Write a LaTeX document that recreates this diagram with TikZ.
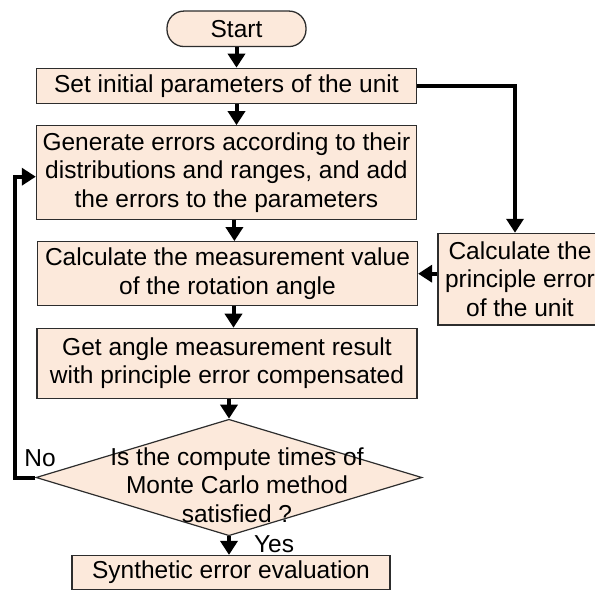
\documentclass[tikz,border=0pt]{standalone}
\usepackage{fontspec}
\setmainfont{Liberation Sans}
\usetikzlibrary{arrows.meta,shapes.geometric,calc}
\definecolor{flowfill}{RGB}{252,233,219}
\definecolor{flowline}{RGB}{45,45,45}

\begin{document}
\begin{tikzpicture}[
  x=1pt, y=-1pt,
  every node/.style={font=\fontsize{24.5}{28.5}\selectfont},
  term/.style={draw=flowline, line width=1.3pt, fill=flowfill,
               rounded corners=17pt, minimum width=139pt,
               minimum height=35.5pt, inner sep=0pt},
  box/.style={draw=flowline, line width=1.2pt, fill=flowfill,
              minimum width=380pt, align=center, inner sep=0pt},
  decision/.style={diamond, draw=flowline, line width=1.2pt,
                   fill=flowfill, minimum width=386pt,
                   minimum height=116.5pt, inner sep=0pt},
  arrow/.style={-{Triangle[length=14pt, width=17pt]}, line width=4pt},
]

%% Page frame (the right-hand box runs past it)
\useasboundingbox (0,0) rectangle (595,590);
\clip (0,0) rectangle (595,590);

%% Main column
\node[term] (start) at (236.5, 28.8) {Start};
\node[box, minimum height=35.5pt] (set) at (226.4, 86)
  {Set initial parameters of the unit};
\node[box, minimum height=93.6pt] (gen) at (226.4, 172.5)
  {Generate errors according to their\\distributions and ranges, and add\\the errors to the parameters};
\node[box, minimum height=64pt] (meas) at (227.5, 273.7)
  {Calculate the measurement value\\of the rotation angle};
\node[box, minimum height=70pt] (get) at (227, 363.3)
  {Get angle measurement result\\with principle error compensated};
\node[decision] (dec) at (229, 477.5) {};
\node[align=center] (dectext) at (237, 485)
  {Is the compute times of\\Monte Carlo method\\satisfied ?};
\node[box, minimum width=318pt, minimum height=34pt] (eval) at (231, 572.5)
  {Synthetic error evaluation};

%% Side branch
\node[box, minimum width=164pt, minimum height=91.7pt] (prin) at (520, 279.2)
  {Calculate the\\principle error\\of the unit};

%% Branch labels
\node (no) at (40, 458.5) {No};
\node (yes) at (274, 544.5) {Yes};

%% Downward flow
\draw[arrow] (start.south) -- (start.south |- set.north);
\draw[arrow] (start.south |- set.south) -- (start.south |- gen.north);
\draw[arrow] ([xshift=8pt]gen.south) -- ([xshift=8pt]gen.south |- meas.north);
\draw[arrow] ([xshift=6pt]meas.south) -- ([xshift=6pt]meas.south |- get.north);
\draw[arrow] (dec.north |- get.south) -- (dec.north);
\draw[arrow] (dec.south) -- (dec.south |- eval.north);

%% Principle error branch
\coordinate (corner) at (515, 86);
\draw[arrow] (set.east) -- (corner) -- (corner |- prin.north);
\draw[arrow] (prin.west |- meas.east) -- (meas.east);

%% Monte Carlo loop
\coordinate (back) at (15, 176.7);
\draw[arrow] (dec.west) -- (dec.west -| back) -- (back) -- (back -| gen.west);

\end{tikzpicture}
\end{document}
